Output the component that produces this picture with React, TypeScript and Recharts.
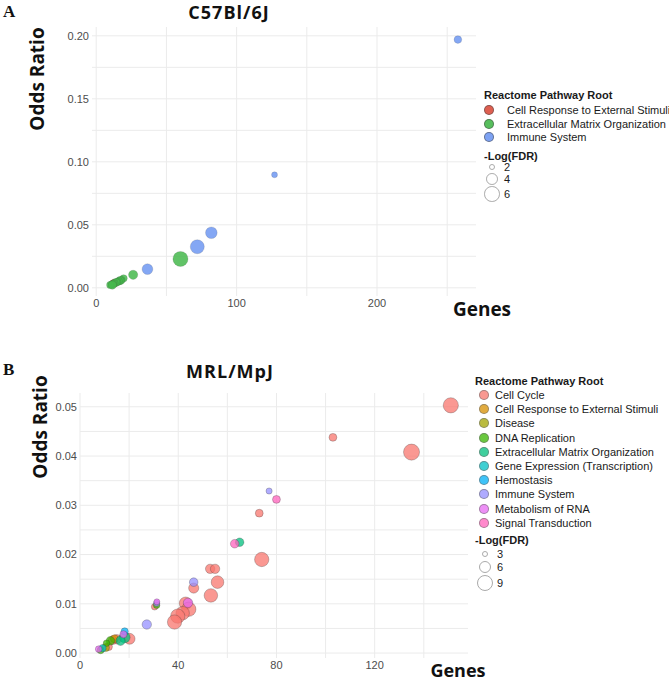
import { ScatterChart, Scatter, XAxis, YAxis, ZAxis, CartesianGrid } from "recharts";

// ---- Panel A: C57Bl/6J ----
const rootsA = ["Cell Response to External Stimuli", "Extracellular Matrix Organization", "Immune System"];
const colorsA = ["#DB4E3E", "#45B84C", "#6F98F2"];
// [genes, odds ratio, -log(FDR)]
const cellResponseA = [
  [12.8, 0.0038, 2.4],
  [12.0, 0.0033, 2.2],
];
const ecmA = [
  [60, 0.0229, 5.7],
  [26.3, 0.0103, 2.9],
  [19.5, 0.0075, 2.3],
  [18, 0.0062, 2.3],
  [17, 0.0057, 2.5],
  [16, 0.0052, 2.4],
  [15, 0.0047, 2.3],
  [14, 0.0042, 2.5],
  [13, 0.0036, 2.3],
  [12, 0.0031, 2.4],
  [11, 0.0027, 2.2],
  [10, 0.0023, 2.3],
  [11.5, 0.0022, 2.6],
];
const immuneA = [
  [257.6, 0.197, 2.37],
  [127, 0.0897, 1.92],
  [82, 0.0437, 3.9],
  [72, 0.0326, 5.1],
  [36.5, 0.0148, 3.5],
];
const seriesA = [cellResponseA, ecmA, immuneA];
const xTicksA = [0, 100, 200];
const xGridA = [0, 50, 100, 150, 200, 250];
const yTicksA = [0, 0.05, 0.1, 0.15, 0.2];
const yGridA = [0, 0.025, 0.05, 0.075, 0.1, 0.125, 0.15, 0.175, 0.2];
const sizeBreaksA = [2, 4, 6];

// ---- Panel B: MRL/MpJ ----
const rootsB = [
  "Cell Cycle",
  "Cell Response to External Stimuli",
  "Disease",
  "DNA Replication",
  "Extracellular Matrix Organization",
  "Gene Expression (Transcription)",
  "Hemostasis",
  "Immune System",
  "Metabolism of RNA",
  "Signal Transduction",
];
const colorsB = ["#F8766D", "#D89000", "#A3A500", "#39B600", "#00BF7D", "#00BFC4", "#00B0F6", "#9590FF", "#E76BF3", "#FF62BC"];
const cellCycleB = [
  [151, 0.0503, 7.5],
  [103, 0.0438, 3.0],
  [135, 0.0408, 8.2],
  [73, 0.0284, 3.0],
  [74, 0.019, 6.8],
  [53, 0.0171, 3.7],
  [55, 0.0171, 3.7],
  [56, 0.0144, 5.6],
  [46.3, 0.0132, 4.1],
  [53.3, 0.0117, 6.2],
  [43, 0.0101, 5.6],
  [44.3, 0.0089, 6.8],
  [41.8, 0.0081, 6.2],
  [39.8, 0.0075, 6.8],
  [38.5, 0.0063, 6.8],
  [30.4, 0.0094, 2.5],
  [20.2, 0.0029, 4.5],
  [14.9, 0.0028, 3.7],
  [13.3, 0.0026, 3.3],
  [11.6, 0.0013, 3.0],
];
const cellResponseB = [[14, 0.0029, 3.0]];
const diseaseB = [[10.4, 0.0011, 3.0]];
const dnaReplicationB = [
  [12.4, 0.0025, 3.3],
  [10.8, 0.002, 2.5],
  [31.2, 0.0097, 2.5],
  [8.4, 0.0006, 2.75],
];
const ecmB = [
  [65, 0.0225, 3.3],
  [18.2, 0.0032, 4.5],
  [16.5, 0.0025, 3.7],
];
const geneExpressionB = [[9.2, 0.001, 2.75]];
const hemostasisB = [[18.2, 0.0044, 2.75]];
const immuneB = [
  [77, 0.0329, 2.36],
  [46.3, 0.0144, 3.3],
  [27.2, 0.0058, 3.7],
  [31.2, 0.0101, 2.4],
];
const rnaB = [
  [44, 0.0102, 3.7],
  [17.7, 0.0038, 2.75],
  [7.6, 0.0008, 2.5],
  [31.3, 0.0104, 2.3],
];
const signalB = [
  [80, 0.0312, 3.0],
  [63, 0.0222, 3.3],
];
const seriesB = [cellCycleB, cellResponseB, diseaseB, dnaReplicationB, ecmB, geneExpressionB, hemostasisB, immuneB, rnaB, signalB];
const xTicksB = [0, 40, 80, 120];
const xGridB = [0, 20, 40, 60, 80, 100, 120, 140];
const yTicksB = [0, 0.01, 0.02, 0.03, 0.04, 0.05];
const yGridB = [0, 0.005, 0.01, 0.015, 0.02, 0.025, 0.03, 0.035, 0.04, 0.045, 0.05];
const sizeBreaksB = [3, 6, 9];

const toPoints = (rows: number[][]) => rows.map(([x, y, z]) => ({ x, y, z }));

const tickStyle = { fontSize: 11, fill: "#4d4d4d", fontFamily: "Liberation Sans, Arial, sans-serif" };
const boldSans = "'Open Sans', sans-serif";

function radiusFor(z: number, dom: number[], range: number[]) {
  const area = range[0] + ((z - dom[0]) / (dom[1] - dom[0])) * (range[1] - range[0]);
  return Math.sqrt(area / Math.PI);
}

interface PanelProps {
  top: number;
  width: number;
  height: number;
  margin: { top: number; right: number; bottom: number; left: number };
  yWidth: number;
  xDomain: number[];
  yDomain: number[];
  xTicks: number[];
  yTicks: number[];
  xGrid: number[];
  yGrid: number[];
  zDomain: number[];
  zRange: number[];
  series: number[][][];
  names: string[];
  colors: string[];
  opacity: number;
  strokeOpacity: number;
}

function Panel(p: PanelProps) {
  return (
    <div style={{ position: "absolute", left: 0, top: p.top }}>
      <ScatterChart width={p.width} height={p.height} margin={p.margin}>
        <CartesianGrid stroke="#ebebeb" horizontalValues={p.yGrid} verticalValues={p.xGrid} />
        <XAxis
          type="number"
          dataKey="x"
          domain={p.xDomain}
          ticks={p.xTicks}
          allowDataOverflow
          axisLine={false}
          tickLine={false}
          tickSize={0}
          tickMargin={3}
          height={20}
          tick={tickStyle}
        />
        <YAxis
          type="number"
          dataKey="y"
          domain={p.yDomain}
          ticks={p.yTicks}
          allowDataOverflow
          axisLine={false}
          tickLine={false}
          tickSize={0}
          tickMargin={3}
          width={p.yWidth}
          tick={tickStyle}
          tickFormatter={(v: number) => v.toFixed(2)}
        />
        <ZAxis type="number" dataKey="z" domain={p.zDomain} range={p.zRange} />
        {p.series.map((rows, i) => (
          <Scatter
            key={p.names[i]}
            name={p.names[i]}
            data={toPoints(rows)}
            fill={p.colors[i]}
            fillOpacity={p.opacity}
            stroke="#333"
            strokeOpacity={p.strokeOpacity}
            strokeWidth={0.5}
            isAnimationActive={false}
          />
        ))}
      </ScatterChart>
    </div>
  );
}

interface LegendProps {
  left: number;
  titleY: number;
  rowY: number;
  rowH: number;
  dotX: number;
  textX: number;
  names: string[];
  colors: string[];
  opacity: number;
  sizeTitleY: number;
  sizeRowsY: number[];
  sizeDotX: number;
  sizeTextX: number;
  breaks: number[];
  zDomain: number[];
  zRange: number[];
}

function Legend(l: LegendProps) {
  const txt = { position: "absolute" as const, fontFamily: "Liberation Sans, Arial, sans-serif", fontSize: 11, color: "#1a1a1a", lineHeight: "14px", whiteSpace: "nowrap" as const };
  return (
    <>
      <div style={{ ...txt, left: l.left, top: l.titleY - 7, fontWeight: 700 }}>Reactome Pathway Root</div>
      {l.names.map((n, i) => (
        <div key={n}>
          <div
            style={{
              position: "absolute",
              left: l.dotX - 5,
              top: l.rowY + i * l.rowH - 5,
              width: 10,
              height: 10,
              borderRadius: "50%",
              boxSizing: "border-box",
              border: "1px solid rgba(50,50,50,0.55)",
              background: l.colors[i],
              opacity: l.opacity,
            }}
          />
          <div style={{ ...txt, left: l.textX, top: l.rowY + i * l.rowH - 7 }}>{n}</div>
        </div>
      ))}
      <div style={{ ...txt, left: l.left, top: l.sizeTitleY - 7, fontWeight: 700 }}>-Log(FDR)</div>
      {l.breaks.map((b, i) => {
        const r = radiusFor(b, l.zDomain, l.zRange);
        return (
          <div key={b}>
            <div
              style={{
                position: "absolute",
                left: l.sizeDotX - r,
                top: l.sizeRowsY[i] - r,
                width: 2 * r,
                height: 2 * r,
                borderRadius: "50%",
                boxSizing: "border-box",
                border: "1px solid #aaa",
                background: "#fff",
              }}
            />
            <div style={{ ...txt, left: l.sizeTextX, top: l.sizeRowsY[i] - 7 }}>{b}</div>
          </div>
        );
      })}
    </>
  );
}

const zDomA = [2, 6];
const zRangeA = [28, 191];
const zDomB = [3, 9];
const zRangeB = [28, 226];

export default function App() {
  const big = { position: "absolute" as const, fontFamily: boldSans, fontWeight: 700, color: "#111", whiteSpace: "nowrap" as const, lineHeight: 1 };
  const letter = { position: "absolute" as const, fontFamily: "'Liberation Serif', serif", fontWeight: 700, fontSize: 17, lineHeight: "17px", color: "#111" };
  return (
    <div style={{ position: "relative", width: 669, height: 681, overflow: "hidden", background: "#fff" }}>
      <style>{`body{margin:0}`}</style>

      <Panel
        top={0}
        width={480}
        height={330}
        margin={{ top: 27, right: 4, bottom: 14, left: 50 }}
        yWidth={42}
        xDomain={[-3, 270.5]}
        yDomain={[-0.0065, 0.207]}
        xTicks={xTicksA}
        yTicks={yTicksA}
        xGrid={xGridA}
        yGrid={yGridA}
        zDomain={zDomA}
        zRange={zRangeA}
        series={seriesA}
        names={rootsA}
        colors={colorsA}
        opacity={0.85}
        strokeOpacity={0.3}
      />
      <Panel
        top={330}
        width={470}
        height={351}
        margin={{ top: 63, right: 2, bottom: 3, left: 40 }}
        yWidth={40}
        xDomain={[0, 158]}
        yDomain={[-0.001, 0.0528]}
        xTicks={xTicksB}
        yTicks={yTicksB}
        xGrid={xGridB}
        yGrid={yGridB}
        zDomain={zDomB}
        zRange={zRangeB}
        series={seriesB}
        names={rootsB}
        colors={colorsB}
        opacity={0.75}
        strokeOpacity={0.55}
      />

      <div style={{ ...letter, left: 3, top: 3 }}>A</div>
      <div style={{ ...letter, left: 3, top: 361 }}>B</div>

      <div style={{ ...big, fontSize: 18, letterSpacing: 1, left: 229, top: 12, transform: "translate(-50%,-50%)" }}>C57Bl/6J</div>
      <div style={{ ...big, fontSize: 18, letterSpacing: 1, left: 230, top: 371, transform: "translate(-50%,-50%)" }}>MRL/MpJ</div>

      <div style={{ ...big, fontSize: 19, left: 37, top: 79, transform: "translate(-50%,-50%) rotate(-90deg)" }}>Odds Ratio</div>
      <div style={{ ...big, fontSize: 19, left: 40, top: 427, transform: "translate(-50%,-50%) rotate(-90deg)" }}>Odds Ratio</div>

      <div style={{ ...big, fontSize: 19, left: 482, top: 309, transform: "translate(-50%,-50%)" }}>Genes</div>
      <div style={{ ...big, fontSize: 18, left: 458, top: 670, transform: "translate(-50%,-50%)" }}>Genes</div>

      <Legend
        left={484}
        titleY={95}
        rowY={110}
        rowH={13.5}
        dotX={489}
        textX={507}
        names={rootsA}
        colors={colorsA}
        opacity={0.9}
        sizeTitleY={156}
        sizeRowsY={[167, 179, 194]}
        sizeDotX={492}
        sizeTextX={504}
        breaks={sizeBreaksA}
        zDomain={zDomA}
        zRange={zRangeA}
      />
      <Legend
        left={475}
        titleY={381}
        rowY={395}
        rowH={14.2}
        dotX={484}
        textX={495}
        names={rootsB}
        colors={colorsB}
        opacity={0.75}
        sizeTitleY={540}
        sizeRowsY={[554, 567, 583]}
        sizeDotX={485}
        sizeTextX={497}
        breaks={sizeBreaksB}
        zDomain={zDomB}
        zRange={zRangeB}
      />
    </div>
  );
}
